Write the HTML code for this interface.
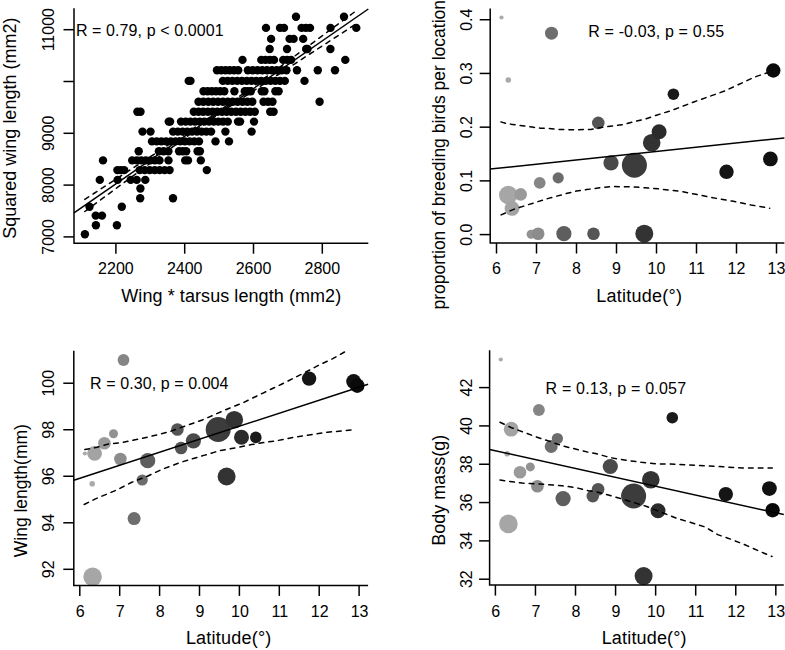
<!DOCTYPE html>
<html><head><meta charset="utf-8"><style>
html,body{margin:0;padding:0;background:#fff;width:785px;height:650px;overflow:hidden}
svg{display:block}
text{font-family:"Liberation Sans",sans-serif;fill:#000}
</style></head><body>
<svg width="785" height="650" viewBox="0 0 785 650">
<rect width="785" height="650" fill="#fff"/><g fill="#000"><circle cx="296.0" cy="16.7" r="4.2"/><circle cx="344.0" cy="16.7" r="4.2"/><circle cx="266.0" cy="27.9" r="4.2"/><circle cx="280.0" cy="27.9" r="4.2"/><circle cx="284.0" cy="27.9" r="4.2"/><circle cx="301.6" cy="27.9" r="4.2"/><circle cx="305.9" cy="27.9" r="4.2"/><circle cx="310.0" cy="27.9" r="4.2"/><circle cx="330.5" cy="27.9" r="4.2"/><circle cx="356.3" cy="27.9" r="4.2"/><circle cx="271.1" cy="38.9" r="4.2"/><circle cx="289.6" cy="38.9" r="4.2"/><circle cx="293.6" cy="38.9" r="4.2"/><circle cx="303.2" cy="38.9" r="4.2"/><circle cx="269.7" cy="49.0" r="4.2"/><circle cx="287.0" cy="49.0" r="4.2"/><circle cx="306.2" cy="49.0" r="4.2"/><circle cx="307.5" cy="49.0" r="4.2"/><circle cx="330.4" cy="49.0" r="4.2"/><circle cx="242.5" cy="59.9" r="4.2"/><circle cx="261.3" cy="59.9" r="4.2"/><circle cx="265.5" cy="59.9" r="4.2"/><circle cx="269.8" cy="59.9" r="4.2"/><circle cx="274.0" cy="59.9" r="4.2"/><circle cx="283.2" cy="59.9" r="4.2"/><circle cx="287.1" cy="59.9" r="4.2"/><circle cx="291.1" cy="59.9" r="4.2"/><circle cx="345.3" cy="59.9" r="4.2"/><circle cx="217.0" cy="70.2" r="4.2"/><circle cx="221.2" cy="70.2" r="4.2"/><circle cx="225.5" cy="70.2" r="4.2"/><circle cx="229.7" cy="70.2" r="4.2"/><circle cx="234.0" cy="70.2" r="4.2"/><circle cx="238.2" cy="70.2" r="4.2"/><circle cx="247.9" cy="70.2" r="4.2"/><circle cx="252.7" cy="70.2" r="4.2"/><circle cx="257.5" cy="70.2" r="4.2"/><circle cx="262.3" cy="70.2" r="4.2"/><circle cx="267.1" cy="70.2" r="4.2"/><circle cx="272.0" cy="70.2" r="4.2"/><circle cx="276.8" cy="70.2" r="4.2"/><circle cx="281.6" cy="70.2" r="4.2"/><circle cx="286.4" cy="70.2" r="4.2"/><circle cx="297.0" cy="70.2" r="4.2"/><circle cx="317.8" cy="70.2" r="4.2"/><circle cx="335.0" cy="70.2" r="4.2"/><circle cx="188.7" cy="80.9" r="4.2"/><circle cx="190.5" cy="80.9" r="4.2"/><circle cx="222.9" cy="80.9" r="4.2"/><circle cx="227.7" cy="80.9" r="4.2"/><circle cx="232.4" cy="80.9" r="4.2"/><circle cx="237.2" cy="80.9" r="4.2"/><circle cx="241.9" cy="80.9" r="4.2"/><circle cx="246.7" cy="80.9" r="4.2"/><circle cx="251.5" cy="80.9" r="4.2"/><circle cx="256.2" cy="80.9" r="4.2"/><circle cx="261.0" cy="80.9" r="4.2"/><circle cx="265.8" cy="80.9" r="4.2"/><circle cx="270.5" cy="80.9" r="4.2"/><circle cx="275.3" cy="80.9" r="4.2"/><circle cx="280.0" cy="80.9" r="4.2"/><circle cx="284.8" cy="80.9" r="4.2"/><circle cx="304.5" cy="80.9" r="4.2"/><circle cx="203.5" cy="91.2" r="4.2"/><circle cx="207.7" cy="91.2" r="4.2"/><circle cx="211.8" cy="91.2" r="4.2"/><circle cx="216.0" cy="91.2" r="4.2"/><circle cx="220.1" cy="91.2" r="4.2"/><circle cx="224.3" cy="91.2" r="4.2"/><circle cx="234.4" cy="91.2" r="4.2"/><circle cx="244.8" cy="91.2" r="4.2"/><circle cx="247.8" cy="91.2" r="4.2"/><circle cx="250.8" cy="91.2" r="4.2"/><circle cx="261.8" cy="91.2" r="4.2"/><circle cx="264.4" cy="91.2" r="4.2"/><circle cx="275.4" cy="91.2" r="4.2"/><circle cx="278.6" cy="91.2" r="4.2"/><circle cx="198.5" cy="101.8" r="4.2"/><circle cx="203.4" cy="101.8" r="4.2"/><circle cx="208.3" cy="101.8" r="4.2"/><circle cx="213.2" cy="101.8" r="4.2"/><circle cx="218.1" cy="101.8" r="4.2"/><circle cx="223.0" cy="101.8" r="4.2"/><circle cx="227.8" cy="101.8" r="4.2"/><circle cx="232.7" cy="101.8" r="4.2"/><circle cx="237.6" cy="101.8" r="4.2"/><circle cx="242.5" cy="101.8" r="4.2"/><circle cx="247.4" cy="101.8" r="4.2"/><circle cx="252.3" cy="101.8" r="4.2"/><circle cx="263.5" cy="101.8" r="4.2"/><circle cx="268.0" cy="101.8" r="4.2"/><circle cx="272.5" cy="101.8" r="4.2"/><circle cx="319.6" cy="101.8" r="4.2"/><circle cx="137.4" cy="111.8" r="4.2"/><circle cx="140.5" cy="111.8" r="4.2"/><circle cx="193.8" cy="111.8" r="4.2"/><circle cx="198.5" cy="111.8" r="4.2"/><circle cx="203.2" cy="111.8" r="4.2"/><circle cx="207.9" cy="111.8" r="4.2"/><circle cx="212.6" cy="111.8" r="4.2"/><circle cx="217.3" cy="111.8" r="4.2"/><circle cx="222.0" cy="111.8" r="4.2"/><circle cx="226.6" cy="111.8" r="4.2"/><circle cx="231.3" cy="111.8" r="4.2"/><circle cx="236.0" cy="111.8" r="4.2"/><circle cx="240.7" cy="111.8" r="4.2"/><circle cx="245.4" cy="111.8" r="4.2"/><circle cx="250.1" cy="111.8" r="4.2"/><circle cx="254.8" cy="111.8" r="4.2"/><circle cx="270.2" cy="111.8" r="4.2"/><circle cx="273.6" cy="111.8" r="4.2"/><circle cx="168.7" cy="121.6" r="4.2"/><circle cx="170.1" cy="121.6" r="4.2"/><circle cx="181.0" cy="121.6" r="4.2"/><circle cx="185.7" cy="121.6" r="4.2"/><circle cx="190.4" cy="121.6" r="4.2"/><circle cx="195.0" cy="121.6" r="4.2"/><circle cx="199.7" cy="121.6" r="4.2"/><circle cx="204.4" cy="121.6" r="4.2"/><circle cx="209.1" cy="121.6" r="4.2"/><circle cx="213.8" cy="121.6" r="4.2"/><circle cx="218.4" cy="121.6" r="4.2"/><circle cx="223.1" cy="121.6" r="4.2"/><circle cx="227.8" cy="121.6" r="4.2"/><circle cx="238.0" cy="121.6" r="4.2"/><circle cx="240.1" cy="121.6" r="4.2"/><circle cx="254.0" cy="121.6" r="4.2"/><circle cx="142.5" cy="131.6" r="4.2"/><circle cx="150.5" cy="131.6" r="4.2"/><circle cx="173.1" cy="131.6" r="4.2"/><circle cx="177.8" cy="131.6" r="4.2"/><circle cx="182.6" cy="131.6" r="4.2"/><circle cx="187.3" cy="131.6" r="4.2"/><circle cx="192.1" cy="131.6" r="4.2"/><circle cx="196.9" cy="131.6" r="4.2"/><circle cx="201.6" cy="131.6" r="4.2"/><circle cx="206.4" cy="131.6" r="4.2"/><circle cx="211.1" cy="131.6" r="4.2"/><circle cx="225.4" cy="131.6" r="4.2"/><circle cx="251.6" cy="131.6" r="4.2"/><circle cx="152.0" cy="141.4" r="4.2"/><circle cx="156.7" cy="141.4" r="4.2"/><circle cx="161.4" cy="141.4" r="4.2"/><circle cx="166.1" cy="141.4" r="4.2"/><circle cx="170.8" cy="141.4" r="4.2"/><circle cx="175.5" cy="141.4" r="4.2"/><circle cx="180.2" cy="141.4" r="4.2"/><circle cx="184.9" cy="141.4" r="4.2"/><circle cx="189.6" cy="141.4" r="4.2"/><circle cx="194.3" cy="141.4" r="4.2"/><circle cx="199.0" cy="141.4" r="4.2"/><circle cx="215.5" cy="141.4" r="4.2"/><circle cx="229.0" cy="141.4" r="4.2"/><circle cx="138.7" cy="151.2" r="4.2"/><circle cx="158.9" cy="151.2" r="4.2"/><circle cx="163.6" cy="151.2" r="4.2"/><circle cx="168.4" cy="151.2" r="4.2"/><circle cx="179.1" cy="151.2" r="4.2"/><circle cx="182.7" cy="151.2" r="4.2"/><circle cx="186.2" cy="151.2" r="4.2"/><circle cx="197.6" cy="151.2" r="4.2"/><circle cx="199.9" cy="151.2" r="4.2"/><circle cx="103.0" cy="160.4" r="4.2"/><circle cx="132.2" cy="160.4" r="4.2"/><circle cx="136.8" cy="160.4" r="4.2"/><circle cx="141.3" cy="160.4" r="4.2"/><circle cx="145.8" cy="160.4" r="4.2"/><circle cx="150.4" cy="160.4" r="4.2"/><circle cx="154.9" cy="160.4" r="4.2"/><circle cx="159.5" cy="160.4" r="4.2"/><circle cx="168.5" cy="160.4" r="4.2"/><circle cx="185.2" cy="160.4" r="4.2"/><circle cx="188.0" cy="160.4" r="4.2"/><circle cx="200.8" cy="160.4" r="4.2"/><circle cx="117.4" cy="170.1" r="4.2"/><circle cx="120.8" cy="170.1" r="4.2"/><circle cx="124.2" cy="170.1" r="4.2"/><circle cx="139.7" cy="170.1" r="4.2"/><circle cx="144.7" cy="170.1" r="4.2"/><circle cx="149.7" cy="170.1" r="4.2"/><circle cx="154.7" cy="170.1" r="4.2"/><circle cx="159.6" cy="170.1" r="4.2"/><circle cx="164.6" cy="170.1" r="4.2"/><circle cx="169.6" cy="170.1" r="4.2"/><circle cx="206.8" cy="170.1" r="4.2"/><circle cx="99.8" cy="179.9" r="4.2"/><circle cx="117.6" cy="179.9" r="4.2"/><circle cx="130.7" cy="179.9" r="4.2"/><circle cx="136.7" cy="179.9" r="4.2"/><circle cx="145.3" cy="179.9" r="4.2"/><circle cx="140.4" cy="188.5" r="4.2"/><circle cx="140.2" cy="198.3" r="4.2"/><circle cx="173.0" cy="198.3" r="4.2"/><circle cx="89.5" cy="206.8" r="4.2"/><circle cx="121.8" cy="206.8" r="4.2"/><circle cx="95.7" cy="215.6" r="4.2"/><circle cx="102.0" cy="215.6" r="4.2"/><circle cx="95.9" cy="225.3" r="4.2"/><circle cx="116.9" cy="225.3" r="4.2"/><circle cx="84.9" cy="234.2" r="4.2"/></g><line x1="74" y1="212.9" x2="368.3" y2="9.0" stroke="#000" stroke-width="1.5"/><polyline points="84.8,199.4 87.8,197.4 90.8,195.5 93.8,193.5 96.8,191.6 99.8,189.6 102.8,187.7 105.8,185.7 108.8,183.8 111.8,181.8 114.8,179.9 117.8,177.9 120.8,176.0 123.8,174.0 126.8,172.1 129.8,170.1 132.8,168.2 135.8,166.2 138.8,164.3 141.8,162.3 144.8,160.3 147.8,158.4 150.8,156.4 153.8,154.5 156.8,152.5 159.8,150.5 162.8,148.6 165.8,146.6 168.8,144.6 171.8,142.7 174.8,140.7 177.8,138.7 180.8,136.7 183.8,134.8 186.8,132.8 189.8,130.8 192.8,128.8 195.8,126.8 198.8,124.7 201.8,122.7 204.8,120.7 207.8,118.6 210.8,116.6 213.8,114.5 216.8,112.4 219.8,110.3 222.8,108.2 225.8,106.1 228.8,104.0 231.8,101.9 234.8,99.7 237.8,97.6 240.8,95.4 243.8,93.2 246.8,91.1 249.8,88.9 252.8,86.7 255.8,84.5 258.8,82.4 261.8,80.2 264.8,78.0 267.8,75.8 270.8,73.6 273.8,71.4 276.8,69.2 279.8,67.0 282.8,64.8 285.8,62.6 288.8,60.4 291.8,58.2 294.8,56.0 297.8,53.8 300.8,51.6 303.8,49.4 306.8,47.2 309.8,45.0 312.8,42.8 315.8,40.6 318.8,38.3 321.8,36.1 324.8,33.9 327.8,31.7 330.8,29.5 333.8,27.3 336.8,25.1 339.8,22.9 342.8,20.7 345.8,18.5 348.8,16.3 351.8,14.0 354.8,11.8" fill="none" stroke="#000" stroke-width="1.5" stroke-dasharray="4.7 5.1" stroke-linecap="round"/><polyline points="84.8,211.5 87.8,209.3 90.8,207.0 93.8,204.8 96.8,202.6 99.8,200.4 102.8,198.2 105.8,196.0 108.8,193.8 111.8,191.6 114.8,189.4 117.8,187.2 120.8,185.0 123.8,182.8 126.8,180.6 129.8,178.3 132.8,176.1 135.8,173.9 138.8,171.7 141.8,169.5 144.8,167.3 147.8,165.1 150.8,162.9 153.8,160.7 156.8,158.5 159.8,156.3 162.8,154.1 165.8,152.0 168.8,149.8 171.8,147.6 174.8,145.4 177.8,143.2 180.8,141.0 183.8,138.9 186.8,136.7 189.8,134.5 192.8,132.4 195.8,130.2 198.8,128.1 201.8,125.9 204.8,123.8 207.8,121.7 210.8,119.6 213.8,117.5 216.8,115.4 219.8,113.4 222.8,111.3 225.8,109.3 228.8,107.2 231.8,105.2 234.8,103.2 237.8,101.2 240.8,99.2 243.8,97.2 246.8,95.2 249.8,93.2 252.8,91.3 255.8,89.3 258.8,87.3 261.8,85.3 264.8,83.4 267.8,81.4 270.8,79.4 273.8,77.5 276.8,75.5 279.8,73.6 282.8,71.6 285.8,69.6 288.8,67.7 291.8,65.7 294.8,63.8 297.8,61.8 300.8,59.9 303.8,57.9 306.8,56.0 309.8,54.0 312.8,52.1 315.8,50.1 318.8,48.2 321.8,46.2 324.8,44.3 327.8,42.3 330.8,40.4 333.8,38.4 336.8,36.5 339.8,34.5 342.8,32.6 345.8,30.6 348.8,28.7 351.8,26.7 354.8,24.8" fill="none" stroke="#000" stroke-width="1.5" stroke-dasharray="4.7 5.1" stroke-linecap="round"/><polyline points="74,8.3 74,243.2 368.3,243.2" fill="none" stroke="#000" stroke-width="1.5"/><line x1="115.9" y1="243.2" x2="115.9" y2="253.7" stroke="#000" stroke-width="1.5"/><line x1="184.7" y1="243.2" x2="184.7" y2="253.7" stroke="#000" stroke-width="1.5"/><line x1="253.5" y1="243.2" x2="253.5" y2="253.7" stroke="#000" stroke-width="1.5"/><line x1="322.29999999999995" y1="243.2" x2="322.29999999999995" y2="253.7" stroke="#000" stroke-width="1.5"/><line x1="74" y1="236.9" x2="63.5" y2="236.9" stroke="#000" stroke-width="1.5"/><line x1="74" y1="185.10000000000002" x2="63.5" y2="185.10000000000002" stroke="#000" stroke-width="1.5"/><line x1="74" y1="133.3" x2="63.5" y2="133.3" stroke="#000" stroke-width="1.5"/><line x1="74" y1="81.50000000000003" x2="63.5" y2="81.50000000000003" stroke="#000" stroke-width="1.5"/><line x1="74" y1="29.700000000000017" x2="63.5" y2="29.700000000000017" stroke="#000" stroke-width="1.5"/><text x="115.9" y="274" text-anchor="middle" font-size="16">2200</text><text x="184.7" y="274" text-anchor="middle" font-size="16">2400</text><text x="253.5" y="274" text-anchor="middle" font-size="16">2600</text><text x="322.3" y="274" text-anchor="middle" font-size="16">2800</text><text transform="translate(54,236.9) rotate(-90)" text-anchor="middle" font-size="16">7000</text><text transform="translate(54,185.10000000000002) rotate(-90)" text-anchor="middle" font-size="16">8000</text><text transform="translate(54,133.3) rotate(-90)" text-anchor="middle" font-size="16">9000</text><text transform="translate(54,29.700000000000017) rotate(-90)" text-anchor="middle" font-size="16">11000</text><text x="75.9" y="35.5" font-size="16" textLength="147.7">R = 0.79, p &lt; 0.0001</text><text x="121.3" y="301.8" font-size="18" textLength="219.9">Wing * tarsus length (mm2)</text><text transform="translate(15.9,238.7) rotate(-90)" font-size="18">Squared wing length (mm2)</text><circle cx="501.5" cy="17.5" r="2.1" fill="#aaaaaa"/><circle cx="508.3" cy="80" r="2.8" fill="#aaaaaa"/><circle cx="508.3" cy="195" r="9.3" fill="#a6a6a6"/><circle cx="512" cy="208.4" r="7.4" fill="#a3a3a3"/><circle cx="520.7" cy="194.4" r="6.3" fill="#9a9a9a"/><circle cx="531.1" cy="234.3" r="4.5" fill="#929292"/><circle cx="538.2" cy="233.7" r="6.3" fill="#8c8c8c"/><circle cx="539.7" cy="182.9" r="5.9" fill="#858585"/><circle cx="551.5" cy="33.2" r="6.5" fill="#6e6e6e"/><circle cx="558.2" cy="177.9" r="5.6" fill="#6c6c6c"/><circle cx="563.9" cy="233.7" r="7.6" fill="#5e5e5e"/><circle cx="593.5" cy="233.7" r="6.3" fill="#555555"/><circle cx="598.3" cy="122.9" r="6.3" fill="#545454"/><circle cx="611" cy="162.8" r="7.6" fill="#4a4a4a"/><circle cx="634.4" cy="165.2" r="12.5" fill="#3c3c3c"/><circle cx="644.3" cy="233.7" r="9.0" fill="#333333"/><circle cx="651.7" cy="142.7" r="8.8" fill="#333333"/><circle cx="659.1" cy="131.7" r="7.5" fill="#2b2b2b"/><circle cx="673.4" cy="94.2" r="5.8" fill="#1a1a1a"/><circle cx="726.5" cy="171.8" r="7.2" fill="#151515"/><circle cx="770.4" cy="158.9" r="7.4" fill="#111111"/><circle cx="773.3" cy="70.5" r="7.2" fill="#0a0a0a"/><line x1="490.2" y1="169.1" x2="784.4" y2="137.9" stroke="#000" stroke-width="1.5"/><polyline points="500.9,121.9 506.8,123.6 512.4,124.4 522.2,125.7 532,127.1 540.4,128.2 548.9,128.5 560,129.5 574.1,129.8 590.9,129.4 602.3,127.3 624.2,124.4 634.6,121.5 645,119.2 656.5,115.2 671.5,110.5 694.5,101.7 724.7,91 754.8,77 767.8,72.6" fill="none" stroke="#000" stroke-width="1.5" stroke-dasharray="4.7 5.1" stroke-linecap="round"/><polyline points="501.1,214.9 513.5,209.4 529.2,204.4 547.5,198.6 565.8,193.7 576.3,191.1 586.7,189.6 600,187.7 611.8,186.5 635.4,187 658.9,188.9 680.1,191.2 694.3,194 713.1,197.8 732,201.1 750.8,204.9 769.7,208.2" fill="none" stroke="#000" stroke-width="1.5" stroke-dasharray="4.7 5.1" stroke-linecap="round"/><polyline points="490.2,8.4 490.2,243 784.4,243" fill="none" stroke="#000" stroke-width="1.5"/><line x1="496.5" y1="243" x2="496.5" y2="253.5" stroke="#000" stroke-width="1.5"/><line x1="536.5" y1="243" x2="536.5" y2="253.5" stroke="#000" stroke-width="1.5"/><line x1="576.5" y1="243" x2="576.5" y2="253.5" stroke="#000" stroke-width="1.5"/><line x1="616.5" y1="243" x2="616.5" y2="253.5" stroke="#000" stroke-width="1.5"/><line x1="656.5" y1="243" x2="656.5" y2="253.5" stroke="#000" stroke-width="1.5"/><line x1="696.5" y1="243" x2="696.5" y2="253.5" stroke="#000" stroke-width="1.5"/><line x1="736.5" y1="243" x2="736.5" y2="253.5" stroke="#000" stroke-width="1.5"/><line x1="776.5" y1="243" x2="776.5" y2="253.5" stroke="#000" stroke-width="1.5"/><line x1="490.2" y1="234.6" x2="479.7" y2="234.6" stroke="#000" stroke-width="1.5"/><line x1="490.2" y1="180.88" x2="479.7" y2="180.88" stroke="#000" stroke-width="1.5"/><line x1="490.2" y1="127.16" x2="479.7" y2="127.16" stroke="#000" stroke-width="1.5"/><line x1="490.2" y1="73.44" x2="479.7" y2="73.44" stroke="#000" stroke-width="1.5"/><line x1="490.2" y1="19.72" x2="479.7" y2="19.72" stroke="#000" stroke-width="1.5"/><text x="496.5" y="273.8" text-anchor="middle" font-size="16">6</text><text x="536.5" y="273.8" text-anchor="middle" font-size="16">7</text><text x="576.5" y="273.8" text-anchor="middle" font-size="16">8</text><text x="616.5" y="273.8" text-anchor="middle" font-size="16">9</text><text x="656.5" y="273.8" text-anchor="middle" font-size="16">10</text><text x="696.5" y="273.8" text-anchor="middle" font-size="16">11</text><text x="736.5" y="273.8" text-anchor="middle" font-size="16">12</text><text x="776.5" y="273.8" text-anchor="middle" font-size="16">13</text><text transform="translate(471.8,234.6) rotate(-90)" text-anchor="middle" font-size="16">0.0</text><text transform="translate(471.8,180.88) rotate(-90)" text-anchor="middle" font-size="16">0.1</text><text transform="translate(471.8,127.16) rotate(-90)" text-anchor="middle" font-size="16">0.2</text><text transform="translate(471.8,73.44) rotate(-90)" text-anchor="middle" font-size="16">0.3</text><text transform="translate(471.8,19.72) rotate(-90)" text-anchor="middle" font-size="16">0.4</text><text x="588.3" y="37" font-size="16" textLength="135.9">R = -0.03, p = 0.55</text><text x="596.3" y="301.9" font-size="18" textLength="85.6">Latitude(°)</text><text transform="translate(444.8,309.5) rotate(-90)" font-size="18" textLength="309.6" lengthAdjust="spacingAndGlyphs">proportion of breeding birds per location</text><circle cx="84.9" cy="453.5" r="2.1" fill="#aaaaaa"/><circle cx="92.2" cy="483.8" r="2.8" fill="#aaaaaa"/><circle cx="92.6" cy="576.8" r="9.3" fill="#a6a6a6"/><circle cx="94.6" cy="453.3" r="7.4" fill="#a3a3a3"/><circle cx="104.4" cy="443.3" r="6.3" fill="#9a9a9a"/><circle cx="113.5" cy="433.8" r="4.5" fill="#929292"/><circle cx="120.4" cy="459" r="6.3" fill="#8c8c8c"/><circle cx="123.5" cy="360" r="5.9" fill="#858585"/><circle cx="134.1" cy="518.6" r="6.5" fill="#6e6e6e"/><circle cx="142.2" cy="480.0" r="5.6" fill="#6c6c6c"/><circle cx="147.7" cy="460.7" r="7.6" fill="#5e5e5e"/><circle cx="177.4" cy="429.5" r="6.3" fill="#555555"/><circle cx="181.1" cy="448" r="6.3" fill="#545454"/><circle cx="193.4" cy="440.8" r="7.6" fill="#4a4a4a"/><circle cx="218.2" cy="429.5" r="12.5" fill="#3c3c3c"/><circle cx="226.6" cy="476.5" r="9.0" fill="#333333"/><circle cx="234.3" cy="419.7" r="8.8" fill="#333333"/><circle cx="241.5" cy="437.2" r="7.5" fill="#2b2b2b"/><circle cx="255.8" cy="437.4" r="5.8" fill="#1a1a1a"/><circle cx="309.1" cy="378.6" r="7.2" fill="#151515"/><circle cx="353.6" cy="381.5" r="7.4" fill="#111111"/><circle cx="357.3" cy="385.7" r="7.2" fill="#0a0a0a"/><clipPath id="c3"><rect x="73.8" y="350.7" width="294.3" height="234.7"/></clipPath><line x1="73.8" y1="480.2" x2="368.1" y2="384.3" stroke="#000" stroke-width="1.5"/><polyline clip-path="url(#c3)" points="84.9,449.6 96.9,447.3 108.4,444.1 122.2,442.4 142.8,438.3 150,436.6 170,431.5 186.9,425.4 202.3,420 214.6,414.6 226.9,409.2 242.3,403.1 262.5,393.3 282,384 300.6,374.7 319.2,365 332.8,358.6 346.3,351 352,348" fill="none" stroke="#000" stroke-width="1.5" stroke-dasharray="4.7 5.1" stroke-linecap="round"/><polyline points="84.2,504.5 96,498.6 116.3,490.2 131.3,482.5 147.4,476.2 162.3,469.2 180.8,462.3 196.2,457.7 203.8,455.4 219.2,450.8 236.2,447.7 251.5,444.6 265.4,442.3 276.9,440.7 293.8,437.3 310.8,434.8 327.7,432.2 355,429.7" fill="none" stroke="#000" stroke-width="1.5" stroke-dasharray="4.7 5.1" stroke-linecap="round"/><polyline points="73.8,350.7 73.8,585.4 368.1,585.4" fill="none" stroke="#000" stroke-width="1.5"/><line x1="79.8" y1="585.4" x2="79.8" y2="595.9" stroke="#000" stroke-width="1.5"/><line x1="119.69999999999999" y1="585.4" x2="119.69999999999999" y2="595.9" stroke="#000" stroke-width="1.5"/><line x1="159.6" y1="585.4" x2="159.6" y2="595.9" stroke="#000" stroke-width="1.5"/><line x1="199.5" y1="585.4" x2="199.5" y2="595.9" stroke="#000" stroke-width="1.5"/><line x1="239.39999999999998" y1="585.4" x2="239.39999999999998" y2="595.9" stroke="#000" stroke-width="1.5"/><line x1="279.3" y1="585.4" x2="279.3" y2="595.9" stroke="#000" stroke-width="1.5"/><line x1="319.2" y1="585.4" x2="319.2" y2="595.9" stroke="#000" stroke-width="1.5"/><line x1="359.1" y1="585.4" x2="359.1" y2="595.9" stroke="#000" stroke-width="1.5"/><line x1="73.8" y1="569.3" x2="63.3" y2="569.3" stroke="#000" stroke-width="1.5"/><line x1="73.8" y1="522.78" x2="63.3" y2="522.78" stroke="#000" stroke-width="1.5"/><line x1="73.8" y1="476.25999999999993" x2="63.3" y2="476.25999999999993" stroke="#000" stroke-width="1.5"/><line x1="73.8" y1="429.73999999999995" x2="63.3" y2="429.73999999999995" stroke="#000" stroke-width="1.5"/><line x1="73.8" y1="383.2199999999999" x2="63.3" y2="383.2199999999999" stroke="#000" stroke-width="1.5"/><text x="80.3" y="617.1" text-anchor="middle" font-size="16">6</text><text x="120.2" y="617.1" text-anchor="middle" font-size="16">7</text><text x="160.1" y="617.1" text-anchor="middle" font-size="16">8</text><text x="200.0" y="617.1" text-anchor="middle" font-size="16">9</text><text x="239.9" y="617.1" text-anchor="middle" font-size="16">10</text><text x="279.8" y="617.1" text-anchor="middle" font-size="16">11</text><text x="319.7" y="617.1" text-anchor="middle" font-size="16">12</text><text x="359.6" y="617.1" text-anchor="middle" font-size="16">13</text><text transform="translate(54,569.3) rotate(-90)" text-anchor="middle" font-size="16">92</text><text transform="translate(54,522.78) rotate(-90)" text-anchor="middle" font-size="16">94</text><text transform="translate(54,476.25999999999993) rotate(-90)" text-anchor="middle" font-size="16">96</text><text transform="translate(54,429.73999999999995) rotate(-90)" text-anchor="middle" font-size="16">98</text><text transform="translate(54,383.2199999999999) rotate(-90)" text-anchor="middle" font-size="16">100</text><text x="90.1" y="389.4" font-size="16" textLength="138.4">R = 0.30, p = 0.004</text><text x="185.9" y="643.8" font-size="18" textLength="85.4">Latitude(°)</text><text transform="translate(27,557.2) rotate(-90)" font-size="18" textLength="133" lengthAdjust="spacingAndGlyphs">Wing length(mm)</text><circle cx="500.8" cy="359.5" r="2.1" fill="#aaaaaa"/><circle cx="507.2" cy="453.8" r="2.8" fill="#aaaaaa"/><circle cx="508.4" cy="523.9" r="9.3" fill="#a6a6a6"/><circle cx="511.2" cy="429.2" r="7.4" fill="#a3a3a3"/><circle cx="520" cy="472.3" r="6.3" fill="#9a9a9a"/><circle cx="530.3" cy="466.9" r="4.5" fill="#929292"/><circle cx="537.4" cy="486.2" r="6.3" fill="#8c8c8c"/><circle cx="538.9" cy="410" r="5.9" fill="#858585"/><circle cx="551.2" cy="446.5" r="6.5" fill="#6e6e6e"/><circle cx="557.4" cy="438.5" r="5.6" fill="#6c6c6c"/><circle cx="563.1" cy="498.6" r="7.6" fill="#5e5e5e"/><circle cx="592.8" cy="496.1" r="6.3" fill="#555555"/><circle cx="598.1" cy="489.2" r="6.3" fill="#545454"/><circle cx="610.3" cy="466.5" r="7.6" fill="#4a4a4a"/><circle cx="633.6" cy="496.0" r="12.5" fill="#3c3c3c"/><circle cx="643.6" cy="576.1" r="9.0" fill="#333333"/><circle cx="650.8" cy="479.7" r="8.8" fill="#333333"/><circle cx="658" cy="510.8" r="7.5" fill="#2b2b2b"/><circle cx="672.3" cy="417.7" r="5.8" fill="#1a1a1a"/><circle cx="725.8" cy="494.1" r="7.2" fill="#151515"/><circle cx="769.4" cy="488.6" r="7.4" fill="#111111"/><circle cx="772.6" cy="510.2" r="7.2" fill="#0a0a0a"/><line x1="489.6" y1="449.5" x2="783.8" y2="514.6" stroke="#000" stroke-width="1.5"/><polyline points="500,422.3 511.5,427.7 536.2,436.9 550,441.5 563.8,446.2 576.2,449.2 588.5,452.3 595.4,453.5 610.8,457.7 626.2,460.3 641.5,462.3 656.9,463.8 678.5,464.3 697,465.4 742.7,467.9 772.3,467.9" fill="none" stroke="#000" stroke-width="1.5" stroke-dasharray="4.7 5.1" stroke-linecap="round"/><polyline points="500,480 510,481.5 522.3,483.1 543.8,484.3 562.3,485.8 576.2,487.7 588.5,490.8 595.4,491.5 614,496.6 629.2,501.2 646.1,506.2 663.1,513 678.3,518.9 690,522.2 705.2,527 717.7,534.6 731.6,539.5 745.4,545 759.3,551.2 772,556.5" fill="none" stroke="#000" stroke-width="1.5" stroke-dasharray="4.7 5.1" stroke-linecap="round"/><polyline points="489.6,350.3 489.6,585.1 783.8,585.1" fill="none" stroke="#000" stroke-width="1.5"/><line x1="495.4" y1="585.1" x2="495.4" y2="595.6" stroke="#000" stroke-width="1.5"/><line x1="535.46" y1="585.1" x2="535.46" y2="595.6" stroke="#000" stroke-width="1.5"/><line x1="575.52" y1="585.1" x2="575.52" y2="595.6" stroke="#000" stroke-width="1.5"/><line x1="615.5799999999999" y1="585.1" x2="615.5799999999999" y2="595.6" stroke="#000" stroke-width="1.5"/><line x1="655.64" y1="585.1" x2="655.64" y2="595.6" stroke="#000" stroke-width="1.5"/><line x1="695.7" y1="585.1" x2="695.7" y2="595.6" stroke="#000" stroke-width="1.5"/><line x1="735.76" y1="585.1" x2="735.76" y2="595.6" stroke="#000" stroke-width="1.5"/><line x1="775.8199999999999" y1="585.1" x2="775.8199999999999" y2="595.6" stroke="#000" stroke-width="1.5"/><line x1="489.6" y1="579.2" x2="479.1" y2="579.2" stroke="#000" stroke-width="1.5"/><line x1="489.6" y1="540.88" x2="479.1" y2="540.88" stroke="#000" stroke-width="1.5"/><line x1="489.6" y1="502.56000000000006" x2="479.1" y2="502.56000000000006" stroke="#000" stroke-width="1.5"/><line x1="489.6" y1="464.24" x2="479.1" y2="464.24" stroke="#000" stroke-width="1.5"/><line x1="489.6" y1="425.9200000000001" x2="479.1" y2="425.9200000000001" stroke="#000" stroke-width="1.5"/><line x1="489.6" y1="387.6" x2="479.1" y2="387.6" stroke="#000" stroke-width="1.5"/><text x="495.8" y="617.1" text-anchor="middle" font-size="16">6</text><text x="535.9" y="617.1" text-anchor="middle" font-size="16">7</text><text x="575.9" y="617.1" text-anchor="middle" font-size="16">8</text><text x="616.0" y="617.1" text-anchor="middle" font-size="16">9</text><text x="656.0" y="617.1" text-anchor="middle" font-size="16">10</text><text x="696.1" y="617.1" text-anchor="middle" font-size="16">11</text><text x="736.2" y="617.1" text-anchor="middle" font-size="16">12</text><text x="776.2" y="617.1" text-anchor="middle" font-size="16">13</text><text transform="translate(472,579.2) rotate(-90)" text-anchor="middle" font-size="16">32</text><text transform="translate(472,540.88) rotate(-90)" text-anchor="middle" font-size="16">34</text><text transform="translate(472,502.56000000000006) rotate(-90)" text-anchor="middle" font-size="16">36</text><text transform="translate(472,464.24) rotate(-90)" text-anchor="middle" font-size="16">38</text><text transform="translate(472,425.9200000000001) rotate(-90)" text-anchor="middle" font-size="16">40</text><text transform="translate(472,387.6) rotate(-90)" text-anchor="middle" font-size="16">42</text><text x="545.5" y="394" font-size="16" textLength="140.6">R = 0.13, p = 0.057</text><text x="601.7" y="643.8" font-size="18" textLength="84.9">Latitude(°)</text><text transform="translate(444.9,545.8) rotate(-90)" font-size="18">Body mass(g)</text>
</svg>
</body></html>
